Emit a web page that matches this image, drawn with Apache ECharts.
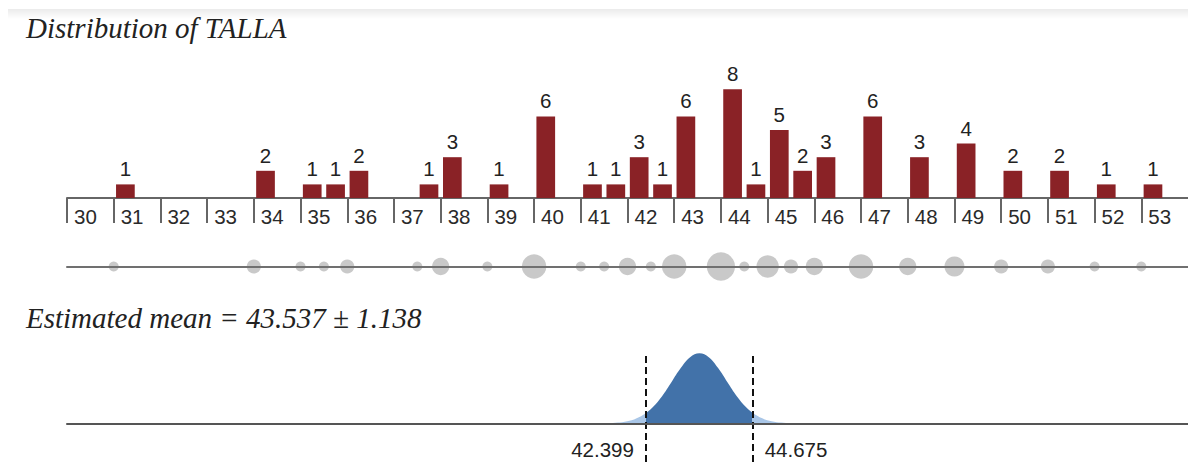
<!DOCTYPE html>
<html>
<head>
<meta charset="utf-8">
<title>Distribution of TALLA</title>
<script src="https://cdn.jsdelivr.net/npm/echarts@6/dist/echarts.min.js"></script>
<style>
html,body{margin:0;padding:0;background:#fff;}
#chart{width:1188px;height:464px;}
</style>
</head>
<body>
<div id="chart"></div>
<script>
// 标题文字
var chartTitle = "Distribution of TALLA";
var meanTitle = "Estimated mean = 43.537 \u00b1 1.138";
// 直方图: 每个0.5宽区间的下界和计数
var binStarts = [31, 34, 35, 35.5, 36, 37.5, 38, 39, 40, 41, 41.5, 42, 42.5, 43, 44, 44.5, 45, 45.5, 46, 47, 48, 49, 50, 51, 52, 53];
var binCounts = [1, 2, 1, 1, 2, 1, 3, 1, 6, 1, 1, 3, 1, 6, 8, 1, 5, 2, 3, 6, 3, 4, 2, 2, 1, 1];
var binWidth = 0.5;
// 坐标轴范围
var axisMin = 30;
var axisMax = 54;
// 均值置信区间
var ciBounds = [42.399, 44.675];
// 均值分布曲线
var curveX = [41.34, 41.54, 41.74, 41.94, 42.14, 42.34, 42.54, 42.74, 42.94, 43.14, 43.34, 43.54, 43.74, 43.94, 44.14, 44.34, 44.54, 44.74, 44.94, 45.14, 45.34, 45.54, 45.74];
var curveY = [0.0, 0.002, 0.006, 0.016, 0.038, 0.083, 0.157, 0.266, 0.403, 0.542, 0.648, 0.687, 0.648, 0.542, 0.403, 0.266, 0.157, 0.083, 0.038, 0.016, 0.006, 0.002, 0.0];

var sansFont = '"Liberation Sans", Arial, sans-serif';
var serifFont = 'italic 29px "Liberation Serif", "Times New Roman", serif';

var barData = [];
var dotData = [];
for (var i = 0; i < binStarts.length; i++) {
	barData.push([binStarts[i] + binWidth / 2, binCounts[i]]);
	dotData.push([binStarts[i], 0, binCounts[i]]);
}
var curveData = [];
for (var j = 0; j < curveX.length; j++) {
	curveData.push([curveX[j], curveY[j]]);
}
var ciLabels = [];
var ciLines = [];
for (var k = 0; k < ciBounds.length; k++) {
	ciLabels.push({
		value: [ciBounds[k], -0.26],
		label: {position: k == 0 ? 'left' : 'right'}
	});
	ciLines.push([{coord: [ciBounds[k], 0.66]}, {coord: [ciBounds[k], -0.4]}]);
}

var chartDom = document.getElementById("chart");
var chart = echarts.init(chartDom, null, {renderer: 'svg'});
var option = {
	animation: false,
	backgroundColor: '#fff',
	graphic: [
		{
			type: 'rect',
			shape: {x: 8, y: 9, width: 1180, height: 10},
			style: {
				fill: new echarts.graphic.LinearGradient(0, 0, 0, 1, [
					{offset: 0, color: '#ebebeb'},
					{offset: 1, color: '#ffffff'}
				])
			},
			z: -1
		},
		{
			type: 'text',
			x: 26,
			y: 27.5,
			style: {text: chartTitle, font: serifFont, fill: '#222', align: 'left', verticalAlign: 'middle'}
		},
		{
			type: 'text',
			x: 26,
			y: 317.5,
			style: {text: meanTitle, font: serifFont, fill: '#222', align: 'left', verticalAlign: 'middle'}
		}
	],
	grid: [
		{left: 67, right: 0, top: 62, height: 136, outerBoundsMode: 'none'},
		{left: 67, right: 0, top: 240, height: 53, outerBoundsMode: 'none'},
		{left: 67, right: 0, top: 352, bottom: 0, outerBoundsMode: 'none'}
	],
	xAxis: [
		{
			type: 'value',
			gridIndex: 0,
			min: axisMin,
			max: axisMax,
			interval: 1,
			splitLine: {show: false},
			axisLine: {show: true, lineStyle: {color: '#666', width: 2}},
			axisTick: {show: true, length: 25, lineStyle: {color: '#666', width: 2}},
			axisLabel: {
				align: 'left',
				padding: [0, 0, 0, 7],
				margin: 8,
				fontSize: 20.5,
				fontFamily: sansFont,
				color: '#2a2a2a',
				showMinLabel: true,
				showMaxLabel: false
			}
		},
		{
			type: 'value',
			gridIndex: 1,
			min: axisMin,
			max: axisMax,
			z: 10,
			splitLine: {show: false},
			axisLine: {show: true, onZero: true, lineStyle: {color: '#707070', width: 2}},
			axisTick: {show: false},
			axisLabel: {show: false}
		},
		{
			type: 'value',
			gridIndex: 2,
			min: axisMin,
			max: axisMax,
			z: 10,
			splitLine: {show: false},
			axisLine: {show: true, onZero: true, lineStyle: {color: '#555', width: 2}},
			axisTick: {show: false},
			axisLabel: {show: false}
		}
	],
	yAxis: [
		{type: 'value', gridIndex: 0, min: 0, max: 10, show: false},
		{type: 'value', gridIndex: 1, min: -1, max: 1, show: false},
		{type: 'value', gridIndex: 2, min: -0.4, max: 0.7, show: false}
	],
	visualMap: {
		type: 'piecewise',
		show: false,
		seriesIndex: 2,
		dimension: 0,
		pieces: [{gte: ciBounds[0], lte: ciBounds[1], color: '#4272a9'}],
		outOfRange: {color: '#a9c6e7'}
	},
	series: [
		{
			// 直方图
			type: 'bar',
			xAxisIndex: 0,
			yAxisIndex: 0,
			data: barData,
			barWidth: 18.7,
			itemStyle: {color: '#8a2226'},
			label: {
				show: true,
				position: 'top',
				distance: 5,
				fontSize: 20.5,
				fontFamily: sansFont,
				color: '#222'
			}
		},
		{
			// 点图
			type: 'scatter',
			xAxisIndex: 1,
			yAxisIndex: 1,
			data: dotData,
			symbolSize: function (d) {
				return 10 * Math.sqrt(d[2]);
			},
			itemStyle: {color: '#c9c9c9', opacity: 1}
		},
		{
			// 均值分布
			type: 'line',
			xAxisIndex: 2,
			yAxisIndex: 2,
			data: curveData,
			smooth: 0.4,
			symbol: 'none',
			lineStyle: {width: 0},
			areaStyle: {opacity: 1}
		},
		{
			// 置信区间
			type: 'scatter',
			xAxisIndex: 2,
			yAxisIndex: 2,
			z: 5,
			data: ciLabels,
			symbolSize: 0.5,
			itemStyle: {color: '#222', opacity: 1},
			label: {
				show: true,
				distance: 12,
				fontSize: 20.5,
				fontFamily: sansFont,
				color: '#222',
				opacity: 1,
				formatter: function (p) {
					return p.value[0].toFixed(3);
				}
			},
			markLine: {
				silent: true,
				symbol: ['none', 'none'],
				label: {show: false},
				lineStyle: {type: [7, 4], color: '#111', width: 2, opacity: 1},
				data: ciLines
			}
		}
	]
};
chart.setOption(option);
</script>
</body>
</html>
